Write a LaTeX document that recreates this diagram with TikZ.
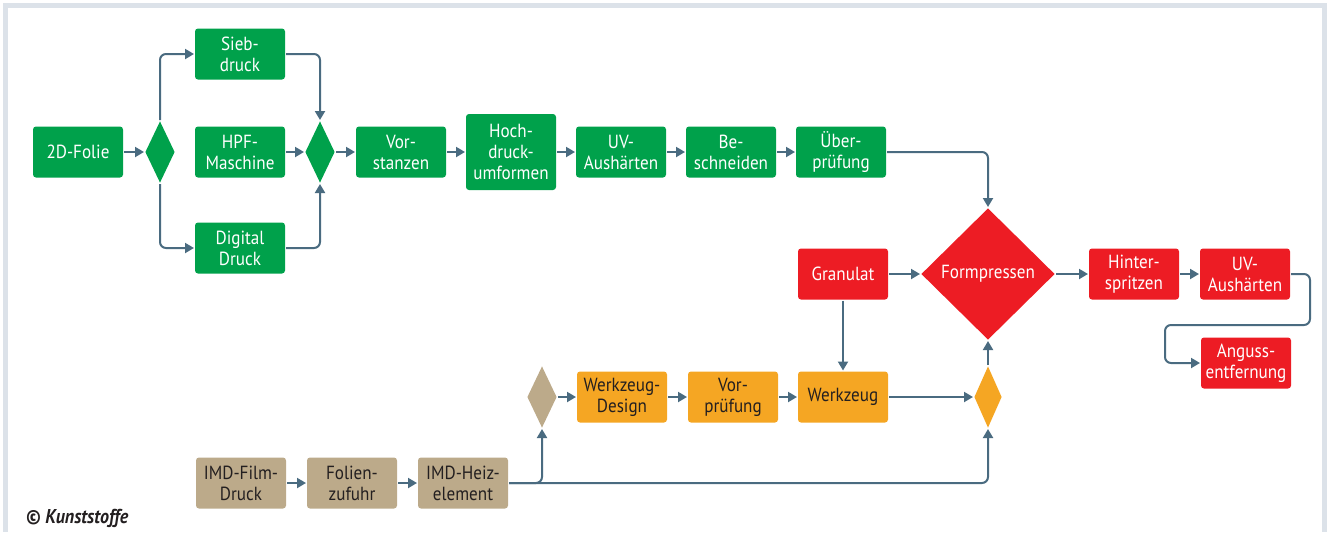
\documentclass[tikz,border=0pt]{standalone}
\usepackage{fontspec}
\setmainfont{PT Sans}[FakeStretch=0.9]
\usepackage{tikz}
\usetikzlibrary{arrows.meta}
\usetikzlibrary{positioning}
\usetikzlibrary{shapes.geometric}

\definecolor{kgreen}{HTML}{00A14B}
\definecolor{kred}{HTML}{ED1C24}
\definecolor{korange}{HTML}{F5A623}
\definecolor{ktan}{HTML}{BCAA8A}
\definecolor{kline}{HTML}{4A6B80}
\definecolor{kframe}{HTML}{DCE2E9}
\definecolor{ktext}{HTML}{231F20}

\newcommand\boxfont{\fontsize{9.5}{10.5}\selectfont}

\tikzset{
  box/.style={rectangle, rounded corners=1.5pt, minimum width=45pt, minimum height=25.5pt,
              inner sep=1pt, align=center, font=\boxfont},
  gbox/.style={box, fill=kgreen, text=white},
  rbox/.style={box, fill=kred, text=white},
  obox/.style={box, fill=korange, text=ktext},
  tbox/.style={box, fill=ktan, text=ktext},
  gate/.style={diamond, inner sep=0pt, minimum width=15pt, minimum height=31pt},
  flow/.style={draw=kline, rounded corners=3pt},
}

\begin{document}
\begin{tikzpicture}[->, >={Triangle[length=4.5pt,width=5pt]}, x=0.5pt, y=-0.5pt,
                    line width=1pt, draw=kline]
        \useasboundingbox (0,0) rectangle (1333,532);
        % frame
        \fill[kframe] (3,3) rectangle (1327,8);
        \fill[kframe] (3,3) rectangle (8,532);
        \fill[kframe] (1322,3) rectangle (1327,532);

        % green: film line
        \node[gbox] (folie) at (78,152) {2D-Folie};
        \node[gate, fill=kgreen] (split) at (160,152) {};
        \node[gbox] (sieb) at (240,54) {Sieb-\\druck};
        \node[gbox] (hpf) at (240,152) {HPF-\\Maschine};
        \node[gbox] (digital) at (240,248) {Digital\\Druck};
        \node[gate, fill=kgreen] (merge) at (320,152) {};
        \node[gbox] (stanzen) [right=9.5pt of merge] {Vor-\\stanzen};
        \node[gbox, minimum height=38pt] (hoch) [right=9pt of stanzen] {Hoch-\\druck-\\umformen};
        \node[gbox] (uvgreen) [right=9pt of hoch] {UV-\\Aushärten};
        \node[gbox] (schneiden) [right=9pt of uvgreen] {Be-\\schneiden};
        \node[gbox] (pruefung) [right=9pt of schneiden] {Über-\\prüfung};

        % red: moulding
        \node[diamond, fill=kred, text=white, font=\boxfont, inner sep=0pt,
              minimum width=67pt, minimum height=66pt] (form) at (988,274) {Formpressen};
        \node[rbox] (granulat) at (843,274) {Granulat};
        \node[rbox] (hinter) at (1134,274) {Hinter-\\spritzen};
        \node[rbox] (uvred) at (1245,274) {UV-\\Aushärten};
        \node[rbox] (anguss) at (1246,363) {Anguss-\\entfernung};

        % orange: tool
        \node[gate, fill=ktan] (toolgate) at (542,397) {};
        \node[obox] (design) at (622,397) {Werkzeug-\\Design};
        \node[obox] (vorpruef) at (733,397) {Vor-\\prüfung};
        \node[obox] (werkzeug) at (843,397) {Werkzeug};
        \node[gate, fill=korange, minimum width=14pt] (joingate) at (988,397) {};

        % tan: IMD
        \node[tbox] (filmdruck) at (241,483) {IMD-Film-\\Druck};
        \node[tbox] (zufuhr) at (352,483) {Folien-\\zufuhr};
        \node[tbox] (heiz) at (463,483) {IMD-Heiz-\\element};

        \coordinate (bendr) at (1310,325);
        \coordinate (bendl) at (1165,325);

        \path[draw=kline]
              (folie) edge (split)
              (hpf) edge (merge)
              (merge) edge (stanzen)
              (stanzen) edge (hoch)
              (hoch) edge (uvgreen)
              (uvgreen) edge (schneiden)
              (schneiden) edge (pruefung)
              (granulat) edge (form)
              (form) edge (hinter)
              (hinter) edge (uvred)
              (granulat) edge (werkzeug)
              (toolgate) edge (design)
              (design) edge (vorpruef)
              (vorpruef) edge (werkzeug)
              (werkzeug) edge (joingate)
              (joingate) edge (form)
              (filmdruck) edge (zufuhr)
              (zufuhr) edge (heiz);

        \draw[flow] (split.north) |- (sieb);
        \draw[flow] (split.south) |- (digital);
        \draw[flow] (sieb) -| (merge.north);
        \draw[flow] (digital) -| (merge.south);
        \draw[flow] (pruefung) -| (form.north);
        \draw[flow] (uvred.east) -| (bendr) -- (bendl) |- (anguss.west);
        \draw[flow] (heiz.east) -| (toolgate.south);
        \draw[flow] (heiz.east) -| (joingate.south);

        \node[anchor=west, text=ktext, font=\fontsize{10}{11}\selectfont\bfseries\itshape]
              (copy) at (18,518) {© Kunststoffe};
    \end{tikzpicture}
\end{document}
